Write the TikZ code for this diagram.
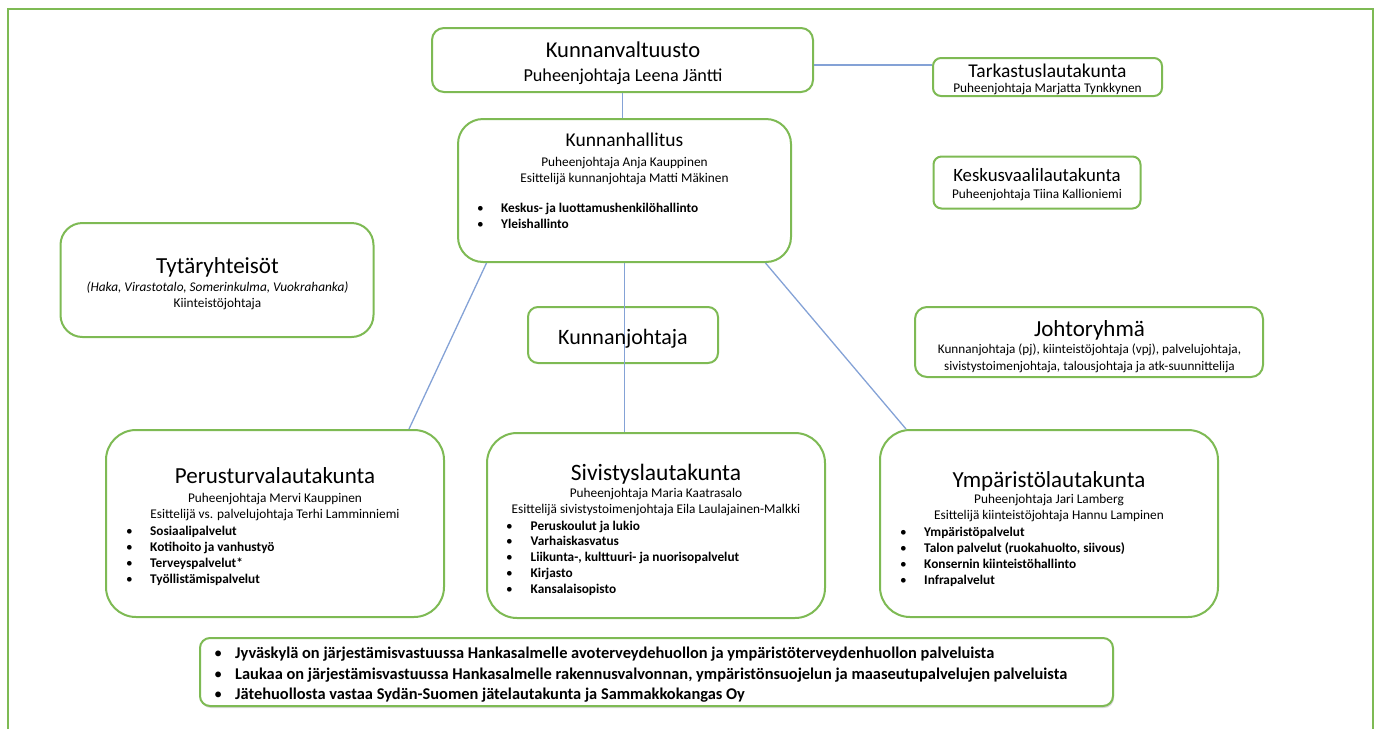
\documentclass[tikz,border=0pt]{standalone}
\usepackage{fontspec}
\setmainfont{Carlito}
\usetikzlibrary{shadows}

\definecolor{orggreen}{RGB}{126,186,84}
\definecolor{linkblue}{RGB}{132,162,214}

\newcommand{\fs}[1]{\fontsize{#1}{#1}\selectfont}
\newcommand{\blt}[1]{\makebox[#1][l]{\mdseries\textbullet}}

\begin{document}
\begin{tikzpicture}[
    x = 1pt, y = -1pt,
    organ/.style = {
      rectangle,
      draw = orggreen, line width = 2pt,
      fill = white,
      inner sep = 0,
    },
    head/.style = {
      anchor = base,
      inner sep = 0,
      font = \fs{23},
    },
    sub/.style = {
      anchor = base,
      inner sep = 0,
      font = \fs{13.3},
    },
    item/.style = {
      anchor = base west,
      inner sep = 0,
      font = \fs{13.3}\bfseries,
    },
    link/.style = {
      draw = linkblue, line width = 1.3pt,
    },
  ]
  \useasboundingbox (0,0) rectangle (1377,729);

  % outer frame
  \draw[orggreen, line width = 2pt] (8,729) -- (8,8.5) -- (1373,8.5) -- (1373,729);

  % boxes
  \node[organ, rounded corners = 12pt, minimum width = 381, minimum height = 64] (kv) at (622.5,60) {};
  \node[organ, rounded corners = 8pt, minimum width = 229, minimum height = 38] (tark) at (1047.5,77) {};
  \node[organ, rounded corners = 8pt, minimum width = 207, minimum height = 52] (kvl) at (1037,182.5) {};
  \node[organ, rounded corners = 25pt, minimum width = 333, minimum height = 143] (kh) at (624.5,190.5) {};
  \node[organ, rounded corners = 22pt, minimum width = 313, minimum height = 114] (tyt) at (217,280) {};
  \node[organ, rounded corners = 10pt, minimum width = 190, minimum height = 56] (kj) at (623,335) {};
  \node[organ, rounded corners = 12pt, minimum width = 348, minimum height = 70] (jr) at (1089,342) {};
  \node[organ, rounded corners = 30pt, minimum width = 338, minimum height = 187] (perus) at (275,523.5) {};
  \node[organ, rounded corners = 30pt, minimum width = 338, minimum height = 185] (siv) at (656,525.5) {};
  \node[organ, rounded corners = 30pt, minimum width = 338, minimum height = 187] (ymp) at (1049,523.5) {};
  \node[organ, rounded corners = 10pt, minimum width = 913, minimum height = 68,
        drop shadow = {shadow xshift = 1pt, shadow yshift = -2pt, fill = black!30}] (muut) at (656.5,672) {};

  % connectors
  \draw[link] ([yshift=-5pt]kv.east) -- ([yshift=-5pt]kv.east -| tark.west);
  \draw[link] (kv.south) -- (kv.south |- kh.north);
  \draw[link] ([xshift=-138pt]kh.south) -- ([xshift=134pt]perus.north);
  \draw[link] (kh.south) -- (kh.south |- siv.north);
  \draw[link] ([xshift=141pt]kh.south) -- ([xshift=-143pt]ymp.north);

  % Kunnanvaltuusto
  \node[head, font = \fs{22.6}] (kv-title) at (623,57) {Kunnanvaltuusto};
  \node[sub, font = \fs{18.2}] (kv-chair) at (623,81) {Puheenjohtaja Leena Jäntti};

  % Tarkastuslautakunta, Keskusvaalilautakunta
  \node[head, font = \fs{19.5}] (tark-title) at (1047.5,77) {Tarkastuslautakunta};
  \node[sub] (tark-chair) at (1047.5,92) {Puheenjohtaja Marjatta Tynkkynen};
  \node[head, font = \fs{18.8}] (kvl-title) at (1037,181) {Keskusvaalilautakunta};
  \node[sub] (kvl-chair) at (1037,198) {Puheenjohtaja Tiina Kallioniemi};

  % Kunnanhallitus
  \node[head, font = \fs{19.5}] (kh-title) at (624.5,146) {Kunnanhallitus};
  \node[sub] (kh-chair) at (624.5,166) {Puheenjohtaja Anja Kauppinen};
  \node[sub] (kh-pres) at (624.5,182) {Esittelijä kunnanjohtaja Matti Mäkinen};
  \node[item] (kh-1) at (477,212) {\blt{24pt}Keskus- ja luottamushenkilöhallinto};
  \node[item] (kh-2) at (477,228) {\blt{24pt}Yleishallinto};

  % Tytäryhteisöt, Kunnanjohtaja, Johtoryhmä
  \node[head] (tyt-title) at (217.5,273) {Tytäryhteisöt};
  \node[sub, font = \fs{13.3}\itshape] (tyt-list) at (217.5,291) {(Haka, Virastotalo, Somerinkulma, Vuokrahanka)};
  \node[sub] (tyt-head) at (217.5,307) {Kiinteistöjohtaja};
  \node[head, font = \fs{22}] (kj-title) at (623,344) {Kunnanjohtaja};
  \node[head] (jr-title) at (1089.5,336) {Johtoryhmä};
  \node[sub, font = \fs{13.2}] (jr-1) at (1089.5,353) {Kunnanjohtaja (pj), kiinteistöjohtaja (vpj), palvelujohtaja,};
  \node[sub, font = \fs{13.2}] (jr-2) at (1089.5,370) {sivistystoimenjohtaja, talousjohtaja ja atk-suunnittelija};

  % Perusturvalautakunta
  \node[head] (perus-title) at (275,483) {Perusturvalautakunta};
  \node[sub] (perus-chair) at (275,502) {Puheenjohtaja Mervi Kauppinen};
  \node[sub] (perus-pres) at (275,518) {Esittelijä vs. palvelujohtaja Terhi Lamminniemi};
  \foreach \txt [count = \i] in {Sosiaalipalvelut, Kotihoito ja vanhustyö, Terveyspalvelut*, Työllistämispalvelut}
    \node[item] (perus-\i) at (126,518.7+16.3*\i) {\blt{24pt}\txt};

  % Sivistyslautakunta
  \node[head, font = \fs{23.5}] (siv-title) at (656,480) {Sivistyslautakunta};
  \node[sub] (siv-chair) at (656,497) {Puheenjohtaja Maria Kaatrasalo};
  \node[sub] (siv-pres) at (656,513) {Esittelijä sivistystoimenjohtaja Eila Laulajainen-Malkki};
  \foreach \txt [count = \i] in {Peruskoulut ja lukio, Varhaiskasvatus, {Liikunta-, kulttuuri- ja nuorisopalvelut}, Kirjasto, Kansalaisopisto}
    \node[item] (siv-\i) at (506,514.1+15.9*\i) {\blt{24.5pt}\txt};

  % Ympäristölautakunta
  \node[head] (ymp-title) at (1049,487) {Ympäristölautakunta};
  \node[sub] (ymp-chair) at (1049,503) {Puheenjohtaja Jari Lamberg};
  \node[sub] (ymp-pres) at (1049,519) {Esittelijä kiinteistöjohtaja Hannu Lampinen};
  \foreach \txt [count = \i] in {Ympäristöpalvelut, {Talon palvelut (ruokahuolto, siivous)}, Konsernin kiinteistöhallinto, Infrapalvelut}
    \node[item] (ymp-\i) at (900,520.9+15.8*\i) {\blt{24pt}\txt};

  % muut palvelut
  \node[item, font = \fs{16.4}\bfseries] (muut-1) at (214,658.5) {\blt{21pt}Jyväskylä on järjestämisvastuussa Hankasalmelle avoterveydehuollon ja ympäristöterveydenhuollon palveluista};
  \node[item, font = \fs{16.4}\bfseries] (muut-2) at (214,679) {\blt{21pt}Laukaa on järjestämisvastuussa Hankasalmelle rakennusvalvonnan, ympäristönsuojelun ja maaseutupalvelujen palveluista};
  \node[item, font = \fs{16.4}\bfseries] (muut-3) at (214,699.5) {\blt{21pt}Jätehuollosta vastaa Sydän-Suomen jätelautakunta ja Sammakkokangas Oy};

\end{tikzpicture}
\end{document}
